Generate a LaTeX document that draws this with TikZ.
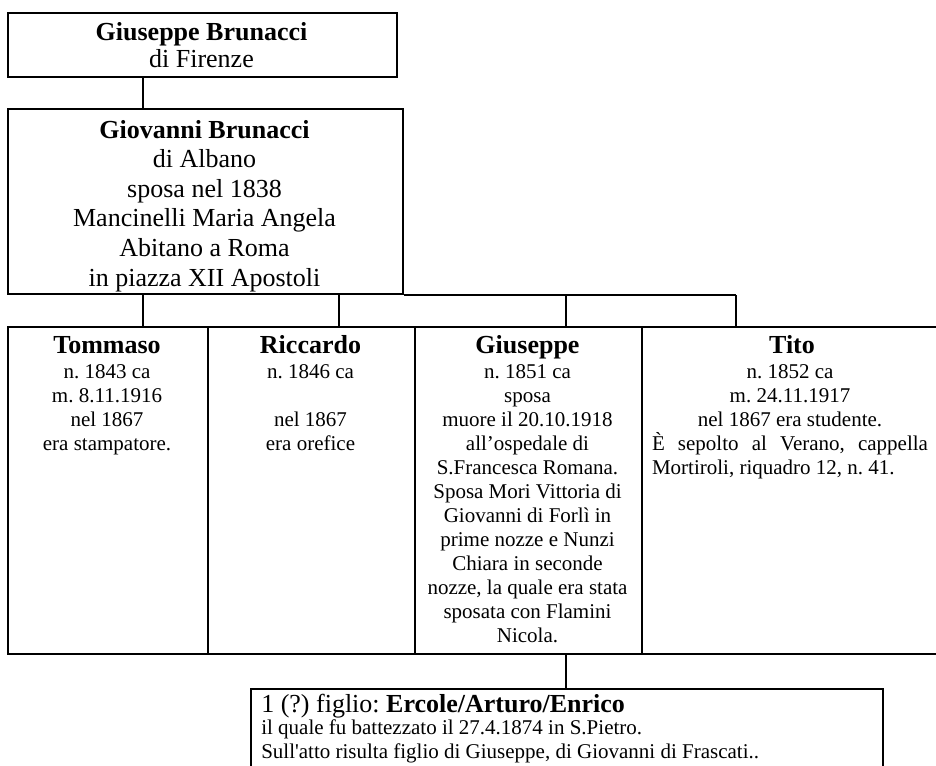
\documentclass[tikz,border=0pt]{standalone}
\usepackage{fontspec}
\setmainfont{Liberation Serif}[Ligatures=TeXOff]
\frenchspacing
\begin{document}
\begin{tikzpicture}[x=0.75pt,y=-0.75pt,
  box/.style={draw, line width=1.5pt, inner sep=0pt, anchor=north west},
  conn/.style={line width=1.5pt},
  bigtxt/.style={font=\fontsize{19.5}{22.2}\selectfont, inner sep=0pt, align=center, anchor=base},
  headtxt/.style={font=\bfseries\fontsize{19.5}{22.2}\selectfont, inner sep=0pt, anchor=base},
  smalltxt/.style={font=\fontsize{15.75}{18}\selectfont, inner sep=0pt, align=center, anchor=base}]
\useasboundingbox (0,0) rectangle (936,765);
\clip (0,0) rectangle (936,765);

% boxes
\node[box, minimum width=291.75pt, minimum height=48pt] (b1) at (7,12) {};
\node[box, minimum width=296.25pt, minimum height=138.75pt] (b2) at (7,108) {};
\node[box, minimum width=150pt, minimum height=245.25pt] (cT) at (7,326) {};
\node[box, minimum width=155.25pt, minimum height=245.25pt] (cR) at (207,326) {};
\node[box, minimum width=170.25pt, minimum height=245.25pt] (cG) at (414,326) {};
\node[box, minimum width=226.5pt, minimum height=245.25pt] (cTi) at (641,326) {};
\node[box, minimum width=474pt, minimum height=84pt] (bot) at (250,688) {};

% texts (base anchor = baseline of the last line)
\node[bigtxt, font=\fontsize{19.5}{20.25}\selectfont] (t1) at (201.5,67) {\textbf{Giuseppe Brunacci}\\di Firenze};
\node[bigtxt] (t2) at (204.5,286) {\textbf{Giovanni Brunacci}\\di Albano\\sposa nel 1838\\Mancinelli Maria Angela\\Abitano a Roma\\in piazza XII Apostoli};

\node[headtxt] (hT) at (107,353) {Tommaso};
\node[headtxt] (hR) at (310.5,353) {Riccardo};
\node[headtxt] (hG) at (527.5,353) {Giuseppe};
\node[headtxt] (hTi) at (792,353) {Tito};

\node[smalltxt] (sT) at (107,450) {n. 1843 ca\\m. 8.11.1916\\nel 1867\\era stampatore.};
\node[smalltxt] (sR) at (310.5,450) {n. 1846 ca\\\mbox{}\\nel 1867\\era orefice};
\node[smalltxt] (sG) at (527.5,642) {n. 1851 ca\\sposa\\muore il 20.10.1918\\all’ospedale di\\S.Francesca Romana.\\Sposa Mori Vittoria di\\Giovanni di Forlì in\\prime nozze e Nunzi\\Chiara in seconde\\nozze, la quale era stata\\sposata con Flamini\\Nicola.};
\node[smalltxt] (sTi) at (790,474) {n. 1852 ca\\m. 24.11.1917\\nel 1867 era studente.\\\makebox[207pt][s]{È sepolto al Verano, cappella}\\\makebox[207pt][l]{Mortiroli, riquadro 12, n. 41.}};

\node[smalltxt, align=left, anchor=base west] (tb) at (261,758) {{\fontsize{19.5}{18}\selectfont 1 (?) figlio: \textbf{Ercole/Arturo/Enrico}}\\[-1.5pt]il quale fu battezzato il 27.4.1874 in S.Pietro.\\Sull'atto risulta figlio di Giuseppe, di Giovanni di Frascati..};

% connectors
\coordinate (x1) at (143,0);
\coordinate (x2) at (339,0);
\coordinate (x3) at (566,0);
\coordinate (x4) at (736,0);
\draw[conn] (b1.south -| x1) -- (b2.north -| x1);
\draw[conn] (b2.south east) -- (b2.south -| x4);
\draw[conn] (b2.south -| x1) -- (cT.north -| x1);
\draw[conn] (b2.south -| x2) -- (cR.north -| x2);
\draw[conn] (b2.south -| x3) -- (cG.north -| x3);
\draw[conn] (b2.south -| x4) -- (cTi.north -| x4);
\draw[conn] (cG.south -| x3) -- (bot.north -| x3);
\end{tikzpicture}
\end{document}
